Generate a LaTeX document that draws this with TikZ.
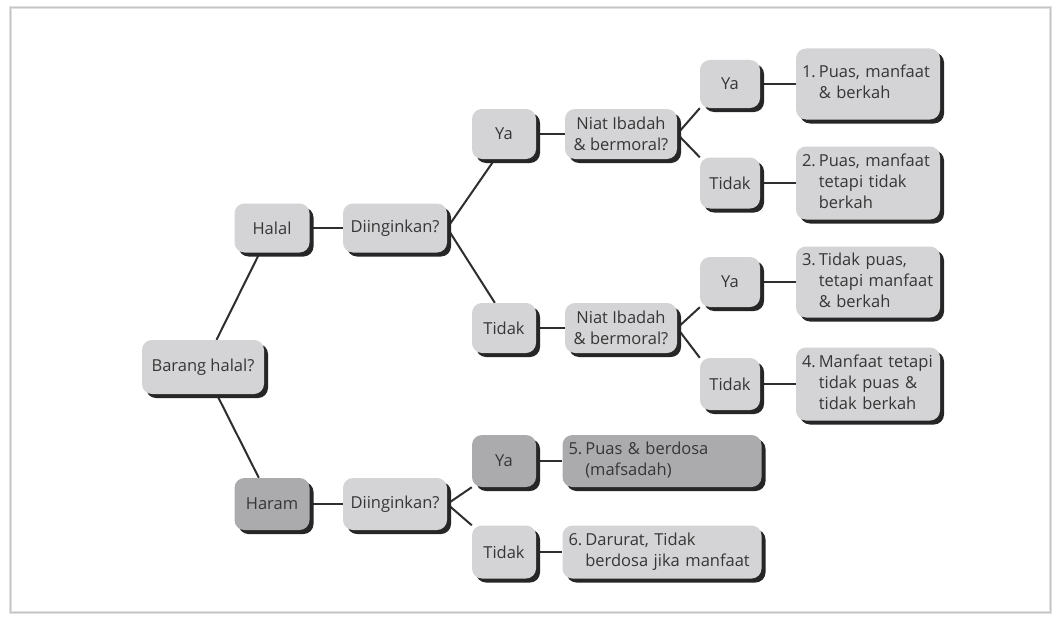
\documentclass[tikz,border=0pt]{standalone}
\usepackage{fontspec}
\setmainfont{Open Sans}
\usetikzlibrary{shadows,backgrounds}
\definecolor{boxl}{HTML}{D4D4D6}
\definecolor{boxd}{HTML}{ABABAD}
\definecolor{txt}{HTML}{363636}
\definecolor{ln}{HTML}{2E2E2E}
\definecolor{frm}{HTML}{C4C4C4}
\begin{document}
\begin{tikzpicture}[x=1pt,y=-1pt,
  bx/.style={rounded corners=10pt, fill=boxl, text=txt, inner sep=0pt, align=center,
    font=\fontsize{16.5}{21}\selectfont,
    general shadow={fill=black!85, shadow xshift=4pt, shadow yshift=-4pt}},
  dk/.style={bx, fill=boxd},
  res/.style={bx, align=left, inner xsep=6pt},
  conn/.style={draw=ln, line width=2pt}]
\useasboundingbox (0,0) rectangle (1057,618);

\node[bx, minimum width=122pt, minimum height=54pt] (barang) at (203,367) {Barang halal?};
\node[bx, minimum width=75pt, minimum height=49pt] (halal) at (272,228) {Halal};
\node[bx, minimum width=104pt, minimum height=49pt] (d1) at (395,228) {Diinginkan?};
\node[bx, minimum width=64pt, minimum height=50pt] (ya1) at (504,134) {Ya};
\node[bx, minimum width=112pt, minimum height=50pt] (n1) at (621,134) {Niat Ibadah\\\& bermoral?};
\node[bx, minimum width=64pt, minimum height=50pt] (t1) at (504,328) {Tidak};
\node[bx, minimum width=112pt, minimum height=50pt] (n2) at (621,328) {Niat Ibadah\\\& bermoral?};

\node[bx, minimum width=60pt, minimum height=48pt] (ya11) at (730,84) {Ya};
\node[res, text width=132pt, minimum height=71pt] (r1) at (868,84)
  {\begin{tabular}{@{}l@{\hspace{3pt}}l@{}}1.&Puas, manfaat\\&\& berkah\end{tabular}};
\node[bx, minimum width=60pt, minimum height=51pt] (t11) at (730,183) {Tidak};
\node[res, text width=132pt, minimum height=73pt] (r2) at (868,183)
  {\begin{tabular}{@{}l@{\hspace{3pt}}l@{}}2.&Puas, manfaat\\&tetapi tidak\\&berkah\end{tabular}};
\node[bx, minimum width=60pt, minimum height=50pt] (ya12) at (730,282) {Ya};
\node[res, text width=132pt, minimum height=71pt] (r3) at (868,282)
  {\begin{tabular}{@{}l@{\hspace{3pt}}l@{}}3.&Tidak puas,\\&tetapi manfaat\\&\& berkah\end{tabular}};
\node[bx, minimum width=60pt, minimum height=52pt] (t12) at (730,384) {Tidak};
\node[res, text width=132pt, minimum height=73pt] (r4) at (868,384)
  {\begin{tabular}{@{}l@{\hspace{3pt}}l@{}}4.&Manfaat tetapi\\&tidak puas \&\\&tidak berkah\end{tabular}};

\node[dk, minimum width=75pt, minimum height=52pt] (haram) at (272,504) {Haram};
\node[bx, minimum width=104pt, minimum height=52pt] (d2) at (395,504) {Diinginkan?};
\node[dk, minimum width=64pt, minimum height=52pt] (ya2) at (504,461) {Ya};
\node[res, fill=boxd, text width=187pt, minimum height=52pt] (r5) at (662,461)
  {\begin{tabular}{@{}l@{\hspace{3pt}}l@{}}5.&Puas \& berdosa\\&(mafsadah)\end{tabular}};
\node[bx, minimum width=64pt, minimum height=53pt] (t2) at (504,552) {Tidak};
\node[res, text width=187pt, minimum height=53pt] (r6) at (662,552)
  {\begin{tabular}{@{}l@{\hspace{3pt}}l@{}}6.&Darurat, Tidak\\&berdosa jika manfaat\end{tabular}};

\begin{pgfonlayer}{background}
\fill[white] (0,0) rectangle (1057,618);
\draw[draw=frm!50, line width=3pt] (10,8) rectangle (1050,612);
\draw[draw=frm, line width=1pt] (10,8) rectangle (1050,612);
\draw[conn] (barang) -- (halal);
\draw[conn] (barang) -- (haram);
\draw[conn] (halal) -- (d1);
\draw[conn] (d1.east) -- (ya1.250);
\draw[conn] (d1.east) -- (t1.110);
\draw[conn] (ya1) -- (n1);
\draw[conn] (t1) -- (n2);
\draw[conn] (n1.east) -- (ya11.south west);
\draw[conn] (n1.east) -- (t11.north west);
\draw[conn] (n2.east) -- (ya12.south west);
\draw[conn] (n2.east) -- (t12.north west);
\draw[conn] (ya11) -- (r1);
\draw[conn] (t11) -- (r2);
\draw[conn] (ya12) -- (r3);
\draw[conn] (t12) -- (r4);
\draw[conn] (haram) -- (d2);
\draw[conn] (d2.east) -- (ya2.south west);
\draw[conn] (d2.east) -- (t2.north west);
\draw[conn] (ya2) -- (r5);
\draw[conn] (t2) -- (r6);
\end{pgfonlayer}
\end{tikzpicture}
\end{document}
